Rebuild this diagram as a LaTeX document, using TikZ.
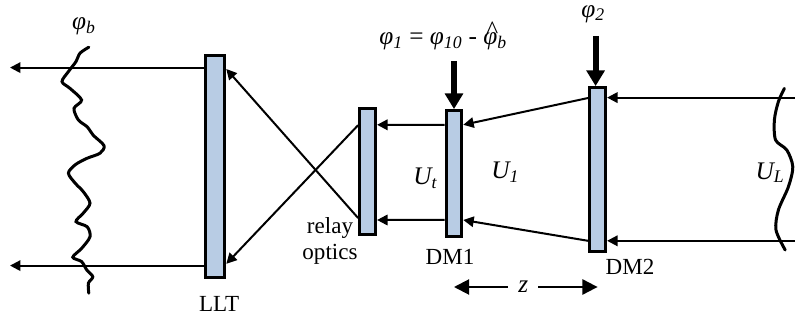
\documentclass[tikz,border=0pt]{standalone}
\usepackage{fontspec}
\setmainfont{Liberation Serif}
\usetikzlibrary{arrows.meta}
\definecolor{plate}{RGB}{184,204,228}
\newcommand{\phihat}{\makebox[0pt][l]{\hspace{0.1em}\raisebox{0.25em}{\^{}}}φ}
\tikzset{
  >={Triangle[length=2.6mm,width=2.6mm]},
  mirror/.style={draw=black,fill=plate,line width=0.75mm,minimum width=#1,inner sep=0pt},
  mirror/.default=4mm,
  ray/.style={->,line width=0.5mm},
  push/.style={-{Triangle[length=3.9mm,width=4.4mm]},line width=1.5mm},
  span/.style={-{Triangle[length=3.8mm,width=3.8mm]},line width=0.5mm},
  wave/.style={line width=0.75mm,line cap=round,smooth},
  tag/.style={font=\fontsize{16.4}{18.4}\selectfont,align=center,inner sep=0pt},
  sym/.style={font=\fontsize{18}{20}\selectfont\itshape,inner sep=0pt},
}
\begin{document}
\begin{tikzpicture}
  \useasboundingbox (0,0) rectangle (19.875,8.05);
  % plates
  \node[mirror=4.9mm,minimum height=55.5mm] (LLT) at (5.375,3.875) {};
  \node[mirror,minimum height=31.5mm] (relay) at (9.19,3.76) {};
  \node[mirror=3.9mm,minimum height=31.5mm] (DM1) at (11.35,3.71) {};
  \node[mirror,minimum height=41mm] (DM2) at (14.94,3.81) {};
  % labels
  \node[tag] (LLTtag) at (5.48,0.45) {LLT};
  \node[tag] (relaytag) at (8.25,2.02) {relay\\optics};
  \node[tag] (DM1tag) at (11.25,1.63) {DM1};
  \node[tag] (DM2tag) at (15.75,1.38) {DM2};
  \node[sym] (phib) at (2.10,7.40) {φ\textsubscript{b}};
  \node[sym] (phitwo) at (14.83,7.70) {φ\textsubscript{2}};
  \node[sym] (phione) at (11.08,7.15) {φ\textsubscript{1} \textup{=} φ\textsubscript{10} \textup{-} \phihat\textsubscript{b}};
  \node[sym] (Ut) at (10.63,3.6) {U\textsubscript{t}};
  \node[sym] (Uone) at (12.63,3.75) {U\textsubscript{1}};
  \node[sym] (UL) at (19.25,3.73) {U\textsubscript{L}};
  \node[sym,minimum width=7.5mm] (z) at (13.08,0.875) {z};
  % free ends
  \coordinate (outA) at (0.25,6.36);
  \coordinate (outB) at (0.25,1.41);
  \coordinate (inA) at (19.875,5.61);
  \coordinate (inB) at (19.875,2.03);
  \coordinate (pushA) at (11.35,6.53);
  \coordinate (pushB) at (14.89,7.15);
  % beam
  \draw[ray] (outA -| LLT.west) -- (outA);
  \draw[ray] (outB -| LLT.west) -- (outB);
  \draw[ray] ([yshift=1.16cm]relay.west) -- ([yshift=-2.42cm]LLT.east);
  \draw[ray] ([yshift=-1.16cm]relay.west) -- ([yshift=2.45cm]LLT.east);
  \draw[ray] ([yshift=1.22cm]DM1.west) -- ([yshift=1.17cm]relay.east);
  \draw[ray] ([yshift=-1.16cm]DM1.west) -- ([yshift=-1.21cm]relay.east);
  \draw[ray] ([yshift=1.79cm]DM2.west) -- ([yshift=1.22cm]DM1.east);
  \draw[ray] ([yshift=-1.78cm]DM2.west) -- ([yshift=-1.16cm]DM1.east);
  \draw[ray] (inA) -- (inA -| DM2.east);
  \draw[ray] (inB) -- (inB -| DM2.east);
  \draw[push] (pushA) -- (DM1.north);
  \draw[push] (pushB) -- (pushB |- DM2.north);
  \draw[span] (z.west) -- (z.west -| DM1);
  \draw[span] (z.east) -- (z.east -| DM2);
  % wavefronts
  \draw[wave] plot coordinates {(2.22,6.87) (2.00,6.72) (1.90,6.51) (1.71,6.26) (1.55,6.01)
    (1.75,5.84) (2.04,5.55) (1.85,5.34) (1.96,5.05) (2.18,4.88) (2.33,4.67) (2.60,4.41)
    (2.50,4.22) (2.17,4.09) (1.88,3.93) (1.71,3.72) (1.88,3.47) (2.08,3.26) (2.25,2.97)
    (2.08,2.72) (1.90,2.51) (2.18,2.38) (2.25,2.13) (2.04,1.84) (1.82,1.62) (2.04,1.51)
    (2.17,1.30) (2.32,1.13) (2.21,0.97) (2.22,0.72)};
  \draw[wave] plot coordinates {(19.61,5.84) (19.46,5.51) (19.36,5.05) (19.39,4.55) (19.67,4.30)
    (19.82,3.88) (19.71,3.38) (19.46,2.80) (19.40,2.30) (19.63,1.80)};
\end{tikzpicture}
\end{document}
